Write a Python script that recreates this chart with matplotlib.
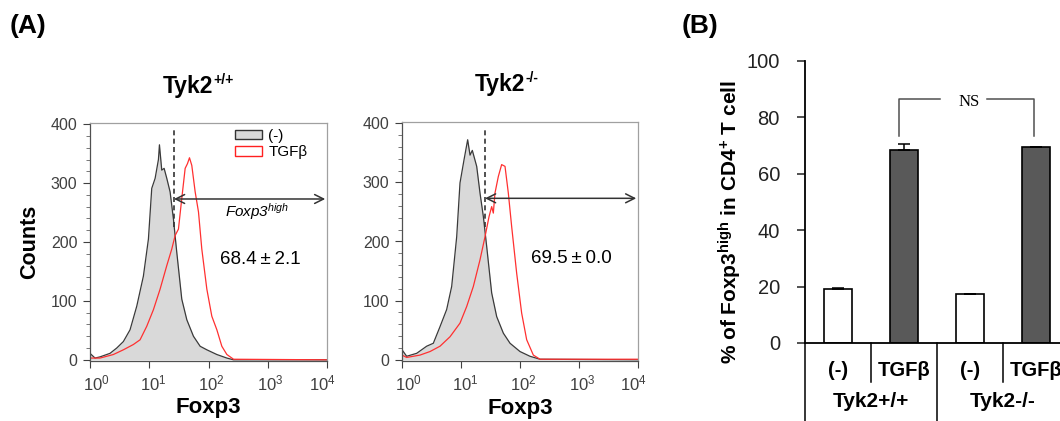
import matplotlib
matplotlib.use('Agg')
import matplotlib.pyplot as plt
import matplotlib.transforms as mtransforms
import numpy as np
from matplotlib.patches import Patch
from matplotlib.ticker import FuncFormatter, NullFormatter, MultipleLocator, FixedLocator

plt.rcParams['font.family'] = ['Liberation Sans', 'DejaVu Sans']
plt.rcParams['mathtext.fontset'] = 'custom'
plt.rcParams['mathtext.rm'] = 'Liberation Sans'
plt.rcParams['mathtext.it'] = 'Liberation Sans:italic'
plt.rcParams['mathtext.bf'] = 'Liberation Sans:bold'

# flow histograms, x given as log10(Foxp3 intensity)
wt_ctrl_log = [0.0, 0.085, 0.169, 0.338, 0.451, 0.563, 0.676, 0.789, 0.901, 0.986, 1.042, 1.099,
               1.155, 1.172, 1.211, 1.251, 1.296, 1.352, 1.408, 1.465, 1.549, 1.634, 1.746,
               1.859, 1.972, 2.141, 2.310, 2.423, 4.0]
wt_ctrl_counts = [11, 3, 5, 11, 20, 31, 51, 91, 142, 205, 291, 308,
                  340, 365, 322, 325, 308, 285, 239, 182, 103, 68, 40,
                  23, 17, 9, 3, 0, 0]
wt_tgfb_log = [0.0, 0.169, 0.394, 0.563, 0.732, 0.845, 0.958, 1.070, 1.183, 1.296, 1.380, 1.437,
               1.493, 1.549, 1.606, 1.645, 1.679, 1.718, 1.775, 1.831, 1.887, 1.972, 2.056,
               2.141, 2.225, 2.310, 2.423, 4.0]
wt_tgfb_counts = [3, 3, 9, 17, 26, 34, 57, 85, 120, 160, 188, 211,
                  222, 274, 325, 333, 343, 330, 285, 251, 188, 120, 74,
                  51, 23, 9, 1, 0]
ko_ctrl_log = [0.0, 0.079, 0.249, 0.418, 0.531, 0.644, 0.757, 0.842, 0.927, 0.983, 1.051, 1.113,
               1.153, 1.192, 1.266, 1.322, 1.379, 1.435, 1.520, 1.605, 1.718, 1.831, 2.0,
               2.169, 2.339, 4.0]
ko_ctrl_counts = [17, 6, 11, 23, 28, 56, 85, 124, 208, 299, 338, 372,
                  346, 354, 327, 282, 242, 192, 113, 73, 45, 28, 14,
                  6, 1, 0]
ko_tgfb_log = [0.0, 0.079, 0.305, 0.475, 0.644, 0.814, 0.983, 1.096, 1.209, 1.322, 1.407, 1.475,
               1.520, 1.548, 1.576, 1.633, 1.689, 1.746, 1.802, 1.859, 1.944, 2.028, 2.113,
               2.226, 2.339, 4.0]
ko_tgfb_counts = [8, 4, 8, 14, 23, 39, 62, 90, 124, 169, 208, 242,
                  259, 248, 282, 310, 330, 327, 282, 225, 146, 79, 34,
                  8, 1, 1]
gate_log = [1.418, 1.407]
hist_titles = [('Tyk2', '+/+'), ('Tyk2', '-/-')]
hist_pct = ['68.4\u2009\u00b1\u20092.1', '69.5\u2009\u00b1\u20090.0']
decades = [0, 1, 2, 3, 4]

# bar chart
bar_labels = ['(-)', 'TGF\u03b2', '(-)', 'TGF\u03b2']
group_labels = ['Tyk2+/+', 'Tyk2-/-']
pct_mean = [19.0, 68.4, 17.2, 69.5]
pct_sd = [0.5, 2.1, 0.3, 0.0]
bar_colors = ['white', '#595959', 'white', '#595959']

W, H = 1060, 421
fig = plt.figure(figsize=(W / 100, H / 100), dpi=100)


def px(x0, y0, x1, y1):
    return [x0 / W, 1 - y1 / H, (x1 - x0) / W, (y1 - y0) / H]


hist_boxes = [px(90, 123, 327, 361), px(402, 122, 638, 361)]
traces = [(wt_ctrl_log, wt_ctrl_counts, wt_tgfb_log, wt_tgfb_counts),
          (ko_ctrl_log, ko_ctrl_counts, ko_tgfb_log, ko_tgfb_counts)]
title_x = [213, 525]
title_base = [93, 91]
label_shift = [6, 4, 3, 3, -5]  # px nudges of the decade labels

for i in range(2):
    ax = fig.add_axes(hist_boxes[i])
    cl, cc, tl, tc = traces[i]
    cx = 10 ** np.array(cl)
    tx = 10 ** np.array(tl)
    ax.fill_between(cx, cc, 0, color='#d9d9d9', lw=0)
    ax.plot(cx, cc, color='#3a3a3a', lw=0.9)
    ax.plot(tx, tc, color='#ff3030', lw=0.9)
    ax.set_xscale('log')
    ax.set_xlim(1, 1e4)
    ax.set_ylim(-2, 402)
    ax.yaxis.set_major_locator(MultipleLocator(100))
    ax.yaxis.set_minor_locator(MultipleLocator(20))
    ax.xaxis.set_major_locator(FixedLocator([10.0 ** d for d in decades]))
    ax.xaxis.set_major_formatter(FuncFormatter(
        lambda v, p: r'$\mathregular{10^{%d}}$' % round(np.log10(v))))
    ax.xaxis.set_minor_formatter(NullFormatter())
    ax.tick_params(axis='y', which='major', length=5, width=0.8, labelsize=11.5,
                   colors='#404040', pad=4)
    ax.tick_params(axis='y', which='minor', length=3, width=0.6, colors='#606060')
    ax.tick_params(axis='x', which='major', length=5, width=0.8, labelsize=12,
                   colors='#404040', pad=4)
    ax.tick_params(axis='x', which='minor', length=3, width=0.6, colors='#606060')
    for lab, dx in zip(ax.get_xticklabels(), label_shift):
        off = mtransforms.ScaledTranslation(dx / 100, 0, fig.dpi_scale_trans)
        lab.set_transform(lab.get_transform() + off)
    for s in ['top', 'right']:
        ax.spines[s].set_color('#a0a0a0')
    for s in ['left', 'bottom']:
        ax.spines[s].set_color('#505050')
    for s in ax.spines.values():
        s.set_linewidth(0.9)

    g = 10 ** gate_log[i]
    ax.plot([g, g], [225, 390], ls='--', color='#333333', lw=1.2, dashes=(3, 2))
    ax.annotate('', xy=(10 ** 3.97, 273), xytext=(g, 273),
                arrowprops=dict(arrowstyle='<->', color='#333333', lw=1.1,
                                mutation_scale=16, shrinkA=0, shrinkB=0))
    ax.text(10 ** 2.87, 171, hist_pct[i], ha='center', va='center', fontsize=13.5)
    ax.text(0.5, -0.197, 'Foxp3', transform=ax.transAxes, ha='center', va='center',
            fontsize=16, fontweight='bold')

    base, sup = hist_titles[i]
    fig.text(title_x[i] / W, 1 - title_base[i] / H, base, ha='right', va='baseline',
             fontsize=16.5, fontweight='bold')
    fig.text(title_x[i] / W, 1 - (title_base[i] - 9) / H, sup, ha='left', va='baseline',
             fontsize=10, fontweight='bold')

    if i == 0:
        ax.text(-0.253, 0.5, 'Counts', transform=ax.transAxes, rotation=90,
                ha='center', va='center', fontsize=15.5, fontweight='bold')
        ax.text(10 ** 2.82, 251, r'Foxp3$^{\mathit{high}}$', style='italic',
                ha='center', va='center', fontsize=11)
        handles = [Patch(facecolor='#d9d9d9', edgecolor='#333333', lw=1.0),
                   Patch(facecolor='white', edgecolor='#ff2020', lw=1.0)]
        ax.legend(handles, ['(-)', 'TGF\u03b2'], loc='upper left',
                  bbox_to_anchor=(0.61, 0.975), frameon=False, fontsize=11,
                  handlelength=1.8, handleheight=0.6, labelspacing=0.15,
                  handletextpad=0.4, borderpad=0, borderaxespad=0)

# panel B
axb = fig.add_axes(px(805, 61, 1069, 343))
xb = np.arange(len(pct_mean))
axb.bar(xb, pct_mean, width=0.41, color=bar_colors, edgecolor='black', lw=1.2,
        yerr=[np.zeros(len(pct_sd)), pct_sd], capsize=4.5,
        error_kw=dict(elinewidth=1.1, capthick=1.1, ecolor='black'))
axb.set_xlim(-0.5, 3.5)
axb.set_ylim(0, 100)
axb.yaxis.set_major_locator(MultipleLocator(20))
axb.set_xticks([])
axb.tick_params(axis='y', length=6, width=1.1, labelsize=14.5, pad=12, colors='#222222')
axb.spines['top'].set_visible(False)
axb.spines['right'].set_visible(False)
axb.spines['left'].set_linewidth(1.3)
axb.spines['bottom'].set_linewidth(1.3)
axb.text(-0.284, 0.43, r'% of Foxp3$^{\mathbf{high}}$ in CD4$^{\mathbf{+}}$ T cell',
         transform=axb.transAxes, rotation=90, ha='center', va='center',
         fontsize=15, fontweight='bold')

tr = axb.get_xaxis_transform()
for xv, y_end in [(-0.5, -0.3), (0.5, -0.138), (1.5, -0.3), (2.5, -0.138)]:
    axb.plot([xv, xv], [0, y_end], transform=tr, color='black', lw=1.1, clip_on=False)
for xv, lab in zip(xb, bar_labels):
    axb.text(xv, -0.096, lab, transform=tr, ha='center', va='center',
             fontsize=14.5, fontweight='bold', clip_on=False)
for k, lab in enumerate(group_labels):
    axb.text(0.5 + 2 * k, -0.209, lab, transform=tr, ha='center', va='center',
             fontsize=15, fontweight='bold', clip_on=False)

# NS bracket
nc = '#505050'
axb.plot([0.93, 0.93, 1.545], [73.4, 86.5, 86.5], color=nc, lw=1.1)
axb.plot([2.258, 2.97, 2.97], [86.5, 86.5, 73.4], color=nc, lw=1.1)
axb.text(1.98, 85.5, 'NS', family='Liberation Serif', fontsize=12, ha='center', va='center')

fig.text(10 / W, 1 - 26 / H, '(A)', fontsize=19, fontweight='bold', ha='left', va='center')
fig.text(682 / W, 1 - 26 / H, '(B)', fontsize=19, fontweight='bold', ha='left', va='center')

fig.savefig('out.png', dpi=100)
